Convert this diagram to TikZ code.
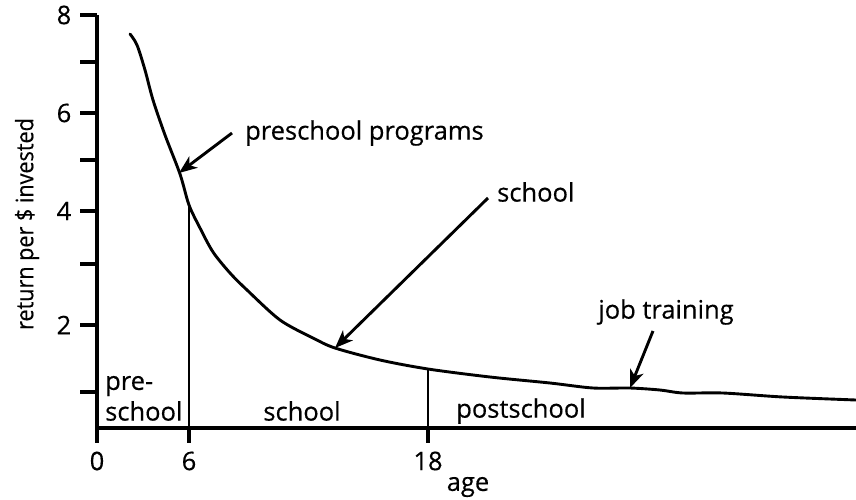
\documentclass[tikz,border=0pt]{standalone}
\usepackage{fontspec}
\setmainfont{Open Sans}[FakeBold=0.4]
\usetikzlibrary{arrows.meta}
\begin{document}
\begin{tikzpicture}[x=1pt,y=-1pt,
  lbl/.style={inner sep=0pt,font=\fontsize{25.5}{27}\selectfont},
  axisline/.style={line width=3.6pt},
  tickline/.style={line width=3.3pt},
  curveline/.style={line width=2.9pt,line join=round,line cap=round},
  divline/.style={line width=2.9pt},
  pointer/.style={line width=2.9pt,-{Stealth[length=18pt,width=14pt,inset=5pt]}}]
\useasboundingbox[fill=white] (0,0) rectangle (856,499);
% axes
\coordinate (ytop) at (97,15);
\coordinate (orig) at (97,428);
\coordinate (xend) at (856,428);
\draw[axisline] (ytop) -- (orig) -- (xend);
% y ticks
\foreach \yy in {15,62,113,160,211,264,325,392}{
  \draw[tickline] (80,\yy) -- (97,\yy);
}
% x ticks
\foreach \xx in {97,189,428}{
  \draw[tickline] (\xx,428) -- (\xx,443);
}
% y tick labels
\node[lbl] (y8) at (64,15) {8};
\node[lbl] (y6) at (64,113) {6};
\node[lbl] (y4) at (64,211) {4};
\node[lbl] (y2) at (64,325) {2};
% x tick labels
\node[lbl] (x0) at (97,461) {0};
\node[lbl] (x6) at (189,461) {6};
\node[lbl] (x18) at (428,461) {18};
\node[lbl] (age) at (468,487) {age};
\node[inner sep=0pt,rotate=90,font=\fontsize{24}{26}\selectfont] (ylab) at (27,224) {\scalebox{0.9}[1]{return per \$ invested}};
% curve
\draw[curveline] plot[smooth,tension=0.5] coordinates {
  (130,34) (137,45) (145,70) (153,100) (165,135) (180,174) (189,205)
  (200,228) (213,252) (230,273) (247,290) (280,320) (313,338) (335,348)
  (380,360) (428,369) (490,377) (550,383) (593,388) (630,388) (660,390)
  (683,393) (723,393) (783,397) (856,400)};
% dividing lines
\coordinate (d6top) at (189,207);
\coordinate (d6bot) at (189,428);
\coordinate (d18top) at (428,369);
\coordinate (d18bot) at (428,428);
\draw[divline] (d6top) -- (d6bot);
\draw[divline] (d18top) -- (d18bot);
% region labels
\node[lbl,anchor=west] (pre) at (105,386) {pre-};
\node[lbl,anchor=west] (presch) at (105,411) {school};
\node[lbl] (sch) at (302,411) {school};
\node[lbl] (post) at (521,411) {postschool};
% annotations
\node[lbl,anchor=west] (pp) at (245,133) {preschool programs};
\node[lbl,anchor=west] (sl) at (497,192) {school};
\node[lbl] (jt) at (666,312) {job training};
\coordinate (pptip) at (179,173);
\coordinate (sltip) at (335,348);
\coordinate (jttip) at (630,388);
\draw[pointer] ([xshift=-13pt]pp.west) -- (pptip);
\draw[pointer] ([xshift=-9pt,yshift=-6pt]sl.west) -- (sltip);
\draw[pointer] ([xshift=-13pt,yshift=-6pt]jt.south) -- (jttip);
\end{tikzpicture}
\end{document}
